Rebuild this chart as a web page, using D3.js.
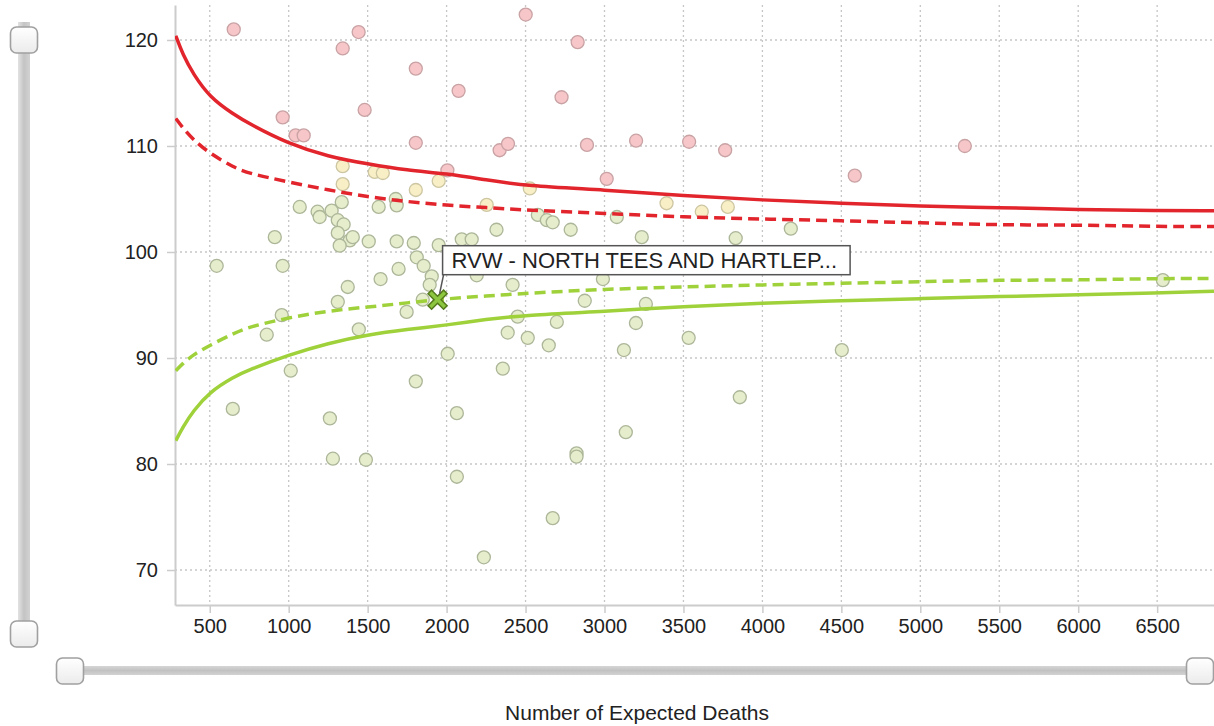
<!DOCTYPE html>
<html>
<head>
    <script src="https://d3js.org/d3.v7.min.js" charset="utf-8"></script>
    <style>
        body { margin: 0; background: #fff; }
        text { font-family: "Liberation Sans", Arial, sans-serif; }
    </style>
</head>
<body>
    <script>
        // expected deaths vs mortality ratio
        var highX = [652, 1342, 1443, 2501, 2830, 1805, 962, 1481, 2076, 2728, 1044, 1095, 1805, 2336, 2389, 2889, 3200, 3536, 3764, 3014, 4585, 5282, 2005];
        var highY = [121.0, 119.2, 120.75, 122.4, 119.8, 117.3, 112.7, 113.4, 115.2, 114.6, 111.0, 111.0, 110.3, 109.6, 110.2, 110.1, 110.5, 110.4, 109.6, 106.9, 107.2, 110.0, 107.7];

        var warnX = [1342, 1342, 1545, 1596, 1805, 1950, 2527, 2254, 3393, 3616, 3781];
        var warnY = [108.1, 106.4, 107.55, 107.45, 105.85, 106.7, 106.0, 104.45, 104.6, 103.8, 104.25];

        var midX = [1070, 1183, 1196, 1272, 1336, 1311, 1348, 1311, 1387, 1406, 1323, 1507, 1570, 1678, 1684, 1684, 1792, 1950,
            1811, 1855, 1906, 1893, 2096, 2159, 2191, 912, 962, 544, 1582, 1696, 1374, 1311, 1849, 1747, 956, 1444, 861, 2007,
            2316, 2418, 2578, 2635, 2672, 2786, 3078, 3236, 3831, 4180, 2450, 2387, 2514, 2647, 2698, 2875, 2990, 3262, 3199,
            3123, 3533, 4503, 6536, 1013, 1805, 646, 1261, 2065, 1280, 1489, 2065, 2356, 2236, 2672, 3857, 3135, 2823, 2823];
        var midY = [104.25, 103.8, 103.3, 103.9, 104.7, 103.0, 102.6, 101.8, 101.1, 101.4, 100.6, 101.0, 104.25, 105.0, 104.4, 101.0, 100.85, 100.65,
            99.5, 98.7, 97.7, 96.9, 101.2, 101.2, 97.8, 101.4, 98.7, 98.7, 97.45, 98.4, 96.7, 95.3, 95.5, 94.35, 94.05, 92.7, 92.2, 90.4,
            102.1, 96.9, 103.5, 103.0, 102.8, 102.1, 103.3, 101.4, 101.3, 102.2, 93.9, 92.4, 91.9, 91.2, 93.4, 95.4, 97.45, 95.1, 93.3,
            90.75, 91.9, 90.75, 97.35, 88.8, 87.8, 85.2, 84.3, 84.8, 80.5, 80.4, 78.8, 89.0, 71.2, 74.9, 86.3, 83.0, 81.0, 80.7];

        // control limits
        var limitX = [285, 330, 395, 500, 650, 750, 1000, 1250, 1500, 1750, 2000, 2250, 2500, 3000, 3500, 4000, 4500, 5000, 5500, 6000, 6500, 6860];
        var upper998 = [120.4, 118.6, 116.8, 114.6, 113.0, 112.1, 110.2, 109.0, 108.3, 107.7, 107.4, 106.8, 106.25, 105.85, 105.3, 104.9, 104.6, 104.3, 104.2, 104.0, 103.9, 103.9];
        var upper95 = [112.6, 111.7, 110.6, 109.3, 108.0, 107.4, 106.6, 105.85, 105.2, 104.75, 104.4, 104.2, 103.95, 103.65, 103.3, 103.1, 102.95, 102.75, 102.55, 102.55, 102.4, 102.4];
        var lower95 = [88.8, 89.5, 90.3, 91.2, 92.3, 92.95, 93.8, 94.45, 94.8, 95.2, 95.6, 95.85, 96.1, 96.5, 96.7, 96.9, 97.05, 97.2, 97.35, 97.35, 97.5, 97.5];
        var lower998 = [82.2, 83.5, 85.0, 86.8, 88.2, 88.9, 90.3, 91.4, 92.2, 92.7, 93.1, 93.65, 94.05, 94.4, 94.85, 95.2, 95.4, 95.6, 95.8, 95.95, 96.15, 96.3];

        var xTicks = [500, 1000, 1500, 2000, 2500, 3000, 3500, 4000, 4500, 5000, 5500, 6000, 6500];
        var yTicks = [70, 80, 90, 100, 110, 120];

        var selected = { name: "RVW - NORTH TEES AND HARTLEP...", x: 1943, y: 95.5 };

        var W = 1214, H = 726;
        var x = d3.scaleLinear().domain([280, 6860]).range([175, 1214]);
        var y = d3.scaleLinear().domain([66.7, 123.3]).range([605, 5]);

        var svg = d3.select("body")
            .append("svg")
            .attr("width", W)
            .attr("height", H);

        var defs = svg.append("defs");
        defs.append("clipPath").attr("id", "plot")
            .append("rect")
            .attr("x", x.range()[0]).attr("y", y.range()[1])
            .attr("width", x.range()[1] - x.range()[0])
            .attr("height", y.range()[0] - y.range()[1]);

        var hg = defs.append("linearGradient").attr("id", "handle").attr("x1", 0).attr("y1", 0).attr("x2", 0).attr("y2", 1);
        hg.append("stop").attr("offset", "0%").attr("stop-color", "#ffffff");
        hg.append("stop").attr("offset", "100%").attr("stop-color", "#ebebeb");
        var vg = defs.append("linearGradient").attr("id", "vtrack").attr("x1", 0).attr("y1", 0).attr("x2", 1).attr("y2", 0);
        vg.append("stop").attr("offset", "0%").attr("stop-color", "#e2e2e2");
        vg.append("stop").attr("offset", "50%").attr("stop-color", "#c4c4c4");
        vg.append("stop").attr("offset", "100%").attr("stop-color", "#d2d2d2");
        var tg = defs.append("linearGradient").attr("id", "htrack").attr("x1", 0).attr("y1", 0).attr("x2", 0).attr("y2", 1);
        tg.append("stop").attr("offset", "0%").attr("stop-color", "#d6d6d6");
        tg.append("stop").attr("offset", "50%").attr("stop-color", "#c2c2c2");
        tg.append("stop").attr("offset", "100%").attr("stop-color", "#d2d2d2");

        // grid
        var grid = svg.append("g");
        grid.selectAll(".vg").data(xTicks).enter().append("line")
            .attr("x1", function (d) { return x(d); }).attr("x2", function (d) { return x(d); })
            .attr("y1", y.range()[1]).attr("y2", y.range()[0])
            .attr("stroke", "#c6c6c6").attr("stroke-width", 1.3).attr("stroke-dasharray", "2,3");
        grid.selectAll(".hg").data(yTicks).enter().append("line")
            .attr("x1", x.range()[0]).attr("x2", x.range()[1])
            .attr("y1", function (d) { return y(d); }).attr("y2", function (d) { return y(d); })
            .attr("stroke", "#c6c6c6").attr("stroke-width", 1.3).attr("stroke-dasharray", "2,3");

        // axes
        var xAxis = svg.append("g")
            .attr("transform", "translate(0," + y.range()[0] + ")")
            .call(d3.axisBottom(x).tickValues(xTicks).tickFormat(d3.format("d"))
                .tickSize(8).tickPadding(6).tickSizeOuter(0));
        var yAxis = svg.append("g")
            .attr("transform", "translate(" + x.range()[0] + ",0)")
            .call(d3.axisLeft(y).tickValues(yTicks).tickSize(8).tickPadding(9).tickSizeOuter(0));
        [xAxis, yAxis].forEach(function (a) {
            a.select(".domain").attr("stroke", "#cccccc").attr("stroke-width", 2);
            a.selectAll(".tick line").attr("stroke", "#cccccc").attr("stroke-width", 1.5);
            a.selectAll(".tick text").attr("fill", "#222").style("font-size", "20px")
                .style("font-family", "'Liberation Sans', Arial, sans-serif");
        });

        var plot = svg.append("g").attr("clip-path", "url(#plot)");

        var points = [];
        highX.forEach(function (v, i) { points.push({ x: v, y: highY[i], fill: "#f6c6c9", stroke: "#c9a2a4" }); });
        warnX.forEach(function (v, i) { points.push({ x: v, y: warnY[i], fill: "#f9efc6", stroke: "#cdc6a2" }); });
        midX.forEach(function (v, i) { points.push({ x: v, y: midY[i], fill: "#e6edcd", stroke: "#acb698" }); });

        plot.selectAll("circle").data(points).enter().append("circle")
            .attr("cx", function (d) { return x(d.x); })
            .attr("cy", function (d) { return y(d.y); })
            .attr("r", 6.5)
            .attr("fill", function (d) { return d.fill; })
            .attr("stroke", function (d) { return d.stroke; })
            .attr("stroke-width", 1.3);

        var limits = [
            { v: upper998, color: "#e2252c", dash: null },
            { v: upper95, color: "#e2252c", dash: "11,6" },
            { v: lower95, color: "#9fd13a", dash: "11,6" },
            { v: lower998, color: "#9fd13a", dash: null }
        ];
        var line = d3.line()
            .x(function (d) { return x(d[0]); })
            .y(function (d) { return y(d[1]); })
            .curve(d3.curveBasis);
        limits.forEach(function (l) {
            plot.append("path")
                .datum(limitX.map(function (v, i) { return [v, l.v[i]]; }))
                .attr("d", line)
                .attr("fill", "none")
                .attr("stroke", l.color)
                .attr("stroke-width", 3.5)
                .attr("stroke-dasharray", l.dash);
        });

        // highlighted trust
        var mx = x(selected.x), my = y(selected.y);
        var marker = svg.append("g").attr("transform", "translate(" + mx + "," + my + ")");
        marker.append("path").attr("d", "M-6,-6L6,6M6,-6L-6,6")
            .attr("stroke", "#557a1c").attr("stroke-width", 6.5).attr("stroke-linecap", "square");
        marker.append("path").attr("d", "M-6,-6L6,6M6,-6L-6,6")
            .attr("stroke", "#8dc63f").attr("stroke-width", 3.5).attr("stroke-linecap", "square");

        var tip = svg.append("g");
        tip.append("line")
            .attr("x1", mx + 2).attr("y1", my - 6)
            .attr("x2", mx + 6).attr("y2", my - 25)
            .attr("stroke", "#555").attr("stroke-width", 1.5);
        var tipRect = tip.append("rect")
            .attr("x", mx + 5).attr("y", my - 54)
            .attr("height", 29)
            .attr("fill", "#fff").attr("stroke", "#555").attr("stroke-width", 1.5);
        var tipText = tip.append("text")
            .attr("x", mx + 14).attr("y", my - 32)
            .attr("fill", "#222").style("font-size", "22px")
            .text(selected.name);
        tipRect.attr("width", tipText.node().getComputedTextLength() + 22);

        svg.append("text")
            .attr("x", 637).attr("y", 720)
            .attr("text-anchor", "middle")
            .attr("fill", "#222").style("font-size", "21px")
            .text("Number of Expected Deaths");

        // range sliders
        var sl = svg.append("g");
        sl.append("rect").attr("x", 18).attr("y", 22).attr("width", 12).attr("height", 612)
            .attr("fill", "url(#vtrack)");
        sl.append("rect").attr("x", 70).attr("y", 666).attr("width", 1130).attr("height", 9)
            .attr("fill", "url(#htrack)");
        var handles = [[24, 40], [24, 634], [70, 671], [1200, 671]];
        sl.selectAll(".h").data(handles).enter().append("rect")
            .attr("x", function (d) { return d[0] - 13.5; })
            .attr("y", function (d) { return d[1] - 13; })
            .attr("width", 27).attr("height", 26).attr("rx", 6)
            .attr("fill", "url(#handle)").attr("stroke", "#a0a0a0").attr("stroke-width", 1.6);
    </script>
</body>
</html>
